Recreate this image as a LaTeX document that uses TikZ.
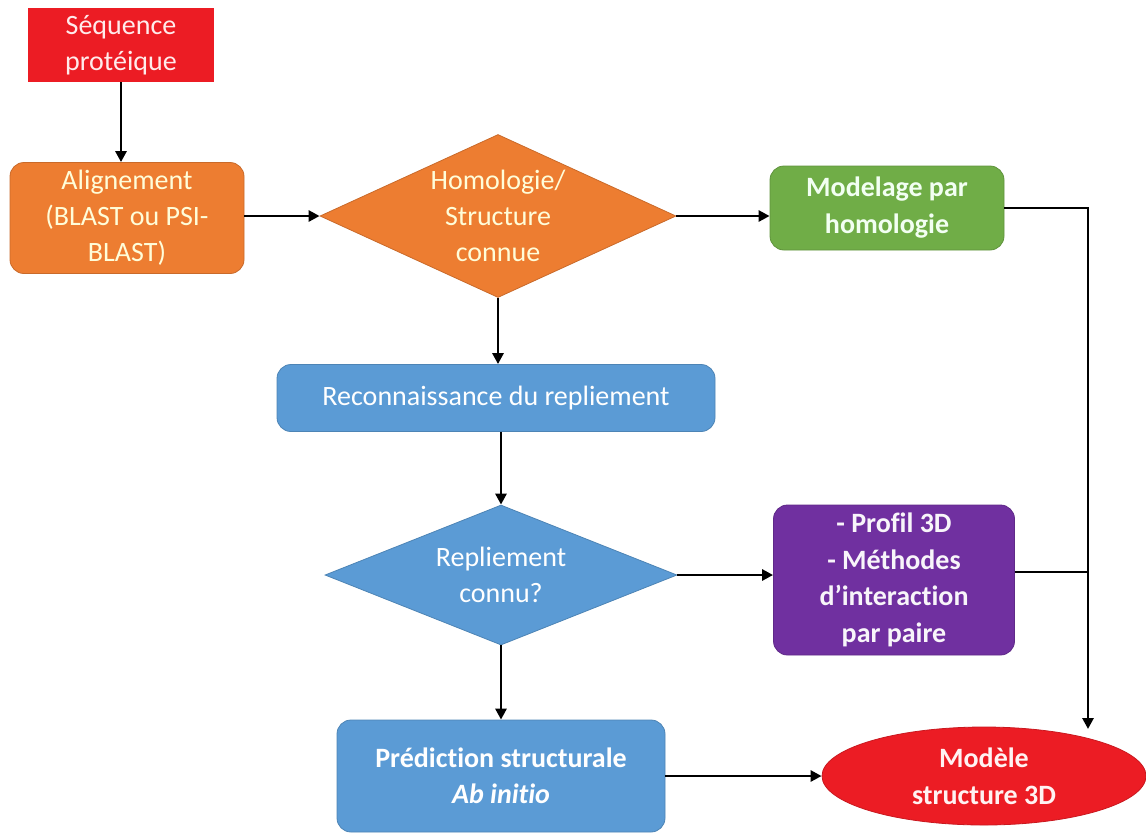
\documentclass[tikz,border=0pt]{standalone}
\usepackage{fontspec}
\setmainfont{Carlito}[Ligatures=NoCommon]
\usetikzlibrary{arrows.meta,shapes.geometric}

\definecolor{rouge}{HTML}{EC1C24}
\definecolor{orange}{HTML}{ED7D31}
\definecolor{vert}{HTML}{70AD47}
\definecolor{bleu}{HTML}{5B9BD5}
\definecolor{violet}{HTML}{7030A0}

\begin{document}
\begin{tikzpicture}[x=0.5pt,y=-0.5pt,>={Triangle[length=5.5pt,width=5.5pt]},
  every node/.style={align=center,font=\fontsize{14}{18}\selectfont,text=white,inner sep=2pt},
  boite/.style={draw=#1!85!black,fill=#1,rounded corners=7pt,line width=0.4pt},
  losange/.style={diamond,draw=#1!85!black,fill=#1,inner sep=0pt,line width=0.4pt},
  fleche/.style={->,line width=1.4pt}]
  \useasboundingbox (0,0) rectangle (1146,832);
  \clip (0,0) rectangle (1146,832);
  \node[fill=rouge,minimum width=93pt,minimum height=37pt,text=red!8] (seq) at (121,45) {Séquence\\protéique};
  \node[boite=orange,minimum width=117pt,minimum height=55.5pt,text=yellow!15] (align) at (127,218) {Alignement\\(BLAST ou PSI-\\BLAST)};
  \node[losange=orange,minimum width=178pt,minimum height=81.5pt,shape aspect=2.2,text=yellow!15] (homol) at (498,216) {Homologie/\\Structure\\connue};
  \node[boite=vert,minimum width=117pt,minimum height=42pt,font=\fontsize{14}{18.5}\selectfont\bfseries,text=green!5] (modelage) at (887,208) {Modelage par\\homologie};
  \node[boite=bleu,minimum width=219pt,minimum height=33.5pt] (recon) at (496,398) {Reconnaissance du repliement};
  \node[losange=bleu,minimum width=176pt,minimum height=70pt,shape aspect=2.5] (repli) at (501,575) {Repliement\\connu?};
  \node[boite=violet,minimum width=120.5pt,minimum height=75pt,font=\fontsize{14}{18.3}\selectfont\bfseries,text=violet!5] (profil) at (894,580) {- Profil 3D\\- Méthodes\\d’interaction\\par paire};
  \node[boite=bleu,minimum width=164pt,minimum height=56pt,font=\fontsize{14}{18}\selectfont\bfseries] (pred) at (501,776) {Prédiction structurale\\\textit{Ab initio}};
  \node[ellipse,draw=rouge!85!black,fill=rouge,minimum width=162pt,minimum height=49pt,inner sep=0pt,font=\fontsize{14}{18.5}\selectfont\bfseries,text=red!5] (modele) at (984,776) {Modèle\\structure 3D};
  \coordinate (jonction) at (1088,572);
  \coordinate (fin) at (1088,729);
  \draw[fleche] (seq) -- (align.north -| seq);
  \draw[fleche] (align.east |- homol) -- (homol.west);
  \draw[fleche] (homol) -- (modelage.west |- homol);
  \draw[fleche] (homol) -- (recon.north -| homol);
  \draw[fleche] (recon.south -| repli) -- (repli);
  \draw[fleche] (repli) -- (profil.west |- repli);
  \draw[fleche] (repli) -- (pred);
  \draw[fleche] (pred) -- (modele);
  \draw[fleche] (modelage.east) -| (fin);
  \draw[line width=1.4pt] (profil.east |- jonction) -- (jonction);
\end{tikzpicture}
\end{document}
